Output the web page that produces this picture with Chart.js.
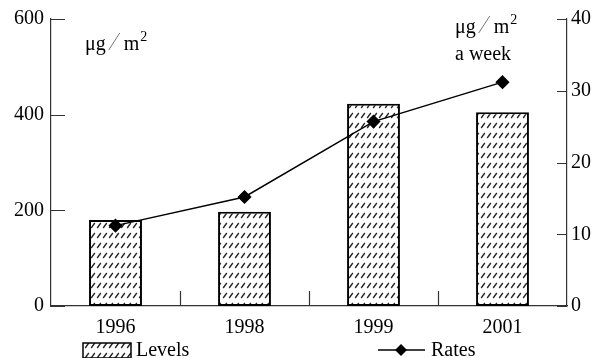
<!DOCTYPE html>
<html>
<head>
<meta charset="utf-8">
<script src="https://cdn.jsdelivr.net/npm/chart.js@4.4.1/dist/chart.umd.min.js"></script>
<style>
  html, body { margin: 0; padding: 0; background: #fff; }
  #wrap { width: 600px; height: 358px; position: relative; }
</style>
</head>
<body>
<div id="wrap"><canvas id="chart" width="600" height="358"></canvas></div>
<script>
// Data
const years = ['1996', '1998', '1999', '2001'];
const levels = [180, 197, 423, 405];
const rates = [11.2, 15.2, 25.7, 31.2];
const levelTicks = [0, 200, 400, 600];
const rateTicks = [0, 10, 20, 30, 40];

const FONT = '"Liberation Serif", "Times New Roman", serif';
const AXIS = '#333';

// Hatch pattern for the bars
function makeHatch() {
    const c = document.createElement('canvas');
    c.width = 6;
    c.height = 10;
    const g = c.getContext('2d');
    g.fillStyle = '#fff';
    g.fillRect(0, 0, 6, 10);
    g.strokeStyle = '#222';
    g.lineWidth = 1.3;
    g.beginPath();
    g.moveTo(1.2, 8);
    g.lineTo(4.8, 3);
    g.stroke();
    return g.createPattern(c, 'repeat');
}
const hatch = makeHatch();

// "μg / m2" with a thin slash and a raised 2
function drawUnit(ctx, x, base) {
    ctx.font = '20px ' + FONT;
    ctx.fillText('\u03bcg', x, base);
    x += ctx.measureText('\u03bcg').width + 3;
    ctx.save();
    ctx.strokeStyle = '#777';
    ctx.lineWidth = 1;
    ctx.beginPath();
    ctx.moveTo(x, base);
    ctx.lineTo(x + 11, base - 17);
    ctx.stroke();
    ctx.restore();
    x += 15;
    ctx.fillText('m', x, base);
    x += ctx.measureText('m').width + 1;
    ctx.font = '14px ' + FONT;
    ctx.fillText('2', x, base - 9);
    ctx.font = '20px ' + FONT;
}

// Inward ticks, unit labels and the legend
const extras = {
    id: 'extras',
    afterDraw(chart) {
        const ctx = chart.ctx;
        const x = chart.scales.x;
        const y = chart.scales.y;
        const y1 = chart.scales.y1;
        const area = chart.chartArea;

        ctx.save();
        ctx.strokeStyle = AXIS;
        ctx.lineWidth = 1.2;
        ctx.beginPath();
        levelTicks.forEach(v => {
            const py = Math.round(y.getPixelForValue(v)) + 0.5;
            ctx.moveTo(area.left, py);
            ctx.lineTo(area.left + 14, py);
        });
        rateTicks.forEach(v => {
            const py = Math.round(y1.getPixelForValue(v)) + 0.5;
            ctx.moveTo(area.right, py);
            ctx.lineTo(area.right - 10, py);
        });
        for (let i = 1; i < years.length; i++) {
            const px = Math.round((x.getPixelForValue(i - 1) + x.getPixelForValue(i)) / 2) + 0.5;
            ctx.moveTo(px, area.bottom);
            ctx.lineTo(px, area.bottom - 15);
        }
        ctx.stroke();

        // unit labels
        ctx.fillStyle = '#000';
        ctx.textAlign = 'left';
        ctx.textBaseline = 'alphabetic';
        drawUnit(ctx, 85, 50);
        drawUnit(ctx, 455, 33);
        ctx.font = '20px ' + FONT;
        ctx.fillText('a week', 455, 60);

        // legend: Levels
        ctx.fillStyle = hatch;
        ctx.fillRect(83, 343, 48, 15);
        ctx.strokeStyle = '#000';
        ctx.lineWidth = 1.5;
        ctx.strokeRect(83, 343, 48, 15);
        ctx.fillStyle = '#000';
        ctx.textBaseline = 'middle';
        ctx.fillText('Levels', 136, 351);

        // legend: Rates
        ctx.beginPath();
        ctx.moveTo(378, 350);
        ctx.lineTo(425, 350);
        ctx.lineWidth = 1.5;
        ctx.stroke();
        ctx.beginPath();
        ctx.moveTo(401, 344);
        ctx.lineTo(407, 350);
        ctx.lineTo(401, 356);
        ctx.lineTo(395, 350);
        ctx.closePath();
        ctx.fill();
        ctx.fillText('Rates', 431, 351);
        ctx.restore();
    }
};

new Chart(document.getElementById('chart'), {
    data: {
        labels: years,
        datasets: [
            {
                type: 'line',
                label: 'Rates',
                data: rates,
                yAxisID: 'y1',
                borderColor: '#000',
                backgroundColor: '#000',
                borderWidth: 1.5,
                pointStyle: 'rectRot',
                pointRadius: 6,
                pointHoverRadius: 6,
                tension: 0,
                order: 0
            },
            {
                type: 'bar',
                label: 'Levels',
                data: levels,
                yAxisID: 'y',
                backgroundColor: hatch,
                borderColor: '#000',
                borderWidth: 2,
                borderSkipped: false,
                barPercentage: 1,
                categoryPercentage: 0.41,
                order: 1
            }
        ]
    },
    options: {
        responsive: false,
        animation: false,
        layout: { padding: { top: 17, left: 0, right: 0, bottom: 0 } },
        plugins: {
            legend: { display: false },
            tooltip: { enabled: false }
        },
        scales: {
            x: {
                offset: true,
                grid: { display: false, drawTicks: false },
                border: { display: true, color: AXIS, width: 1.2 },
                ticks: { color: '#000', font: { family: FONT, size: 20 }, padding: 10 },
                afterFit(s) { s.height = 52; }
            },
            y: {
                position: 'left',
                min: 0,
                max: 600,
                afterBuildTicks(s) { s.ticks = levelTicks.map(v => ({ value: v })); },
                grid: { display: false, drawTicks: false },
                border: { display: true, color: AXIS, width: 1.2 },
                ticks: { color: '#000', font: { family: FONT, size: 20 }, padding: 7 },
                afterFit(s) { s.width = 51; }
            },
            y1: {
                position: 'right',
                min: 0,
                max: 40,
                afterBuildTicks(s) { s.ticks = rateTicks.map(v => ({ value: v })); },
                grid: { display: false, drawTicks: false },
                border: { display: true, color: AXIS, width: 1.2 },
                ticks: { color: '#000', font: { family: FONT, size: 20 }, padding: 4 },
                afterFit(s) { s.width = 33; }
            }
        }
    },
    plugins: [extras]
});
</script>
</body>
</html>
